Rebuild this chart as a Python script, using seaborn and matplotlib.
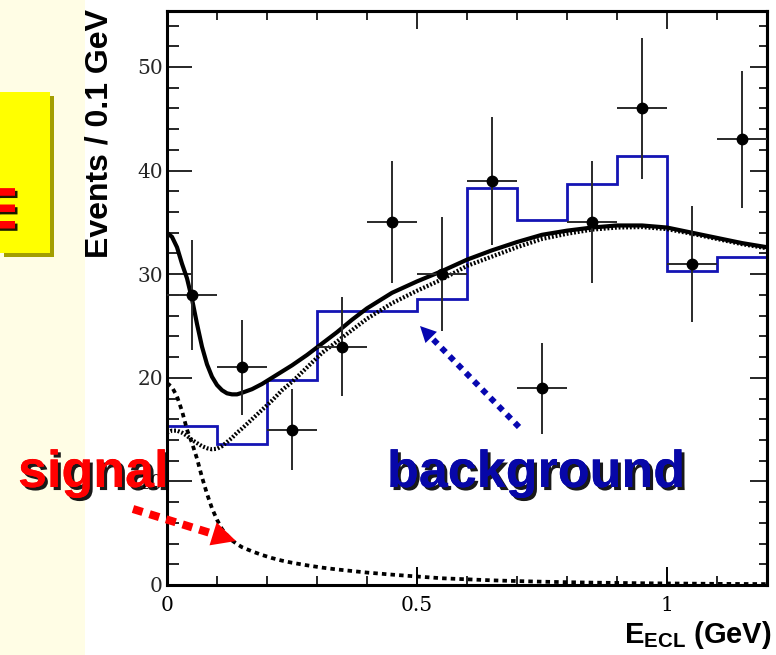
import numpy as np
import pandas as pd
import matplotlib
matplotlib.use("Agg")
import matplotlib.pyplot as plt
import matplotlib.patheffects as pe
from matplotlib.patches import Rectangle, Polygon
from matplotlib.lines import Line2D
from matplotlib.ticker import MultipleLocator, FixedLocator
import seaborn as sns

# ---------------- data ----------------
# measured E_ECL spectrum in 0.1 GeV bins
bin_edges = [0.0, 0.1, 0.2, 0.3, 0.4, 0.5, 0.6, 0.7, 0.8, 0.9, 1.0, 1.1, 1.2]
bin_centers = [0.05, 0.15, 0.25, 0.35, 0.45, 0.55, 0.65, 0.75, 0.85, 0.95, 1.05, 1.15]
events = [28, 21, 15, 23, 35, 30, 39, 19, 35, 46, 31, 43]
events_err = [5.3, 4.6, 3.9, 4.8, 5.9, 5.5, 6.2, 4.4, 5.9, 6.8, 5.6, 6.6]
bin_halfwidth = [0.05] * 12

# expected background histogram
mc_background = [15.3, 13.6, 19.8, 26.4, 26.4, 27.6, 38.3, 35.2, 38.7, 41.4, 30.3, 31.7]

# fit curves
fit_e = [0.00, 0.01, 0.02, 0.03, 0.04, 0.05, 0.06, 0.07, 0.08, 0.09, 0.10, 0.11,
         0.12, 0.13, 0.14, 0.15, 0.17, 0.19, 0.21, 0.23, 0.25, 0.28, 0.31, 0.34,
         0.37, 0.40, 0.45, 0.50, 0.55, 0.60, 0.65, 0.70, 0.75, 0.80, 0.85, 0.90,
         0.95, 1.00, 1.05, 1.10, 1.15, 1.20]
fit_total = [34.0, 33.6, 32.6, 31.0, 29.6, 27.6, 25.2, 23.0, 21.3, 20.1, 19.3, 18.8,
             18.5, 18.4, 18.4, 18.55, 18.9, 19.4, 20.0, 20.6, 21.2, 22.2, 23.3, 24.4,
             25.6, 26.7, 28.2, 29.3, 30.3, 31.4, 32.3, 33.1, 33.8, 34.2, 34.5, 34.7,
             34.7, 34.5, 34.0, 33.5, 33.0, 32.6]
fit_background = [14.7, 14.9, 14.9, 14.7, 14.4, 14.0, 13.7, 13.4, 13.2, 13.1, 13.15, 13.4,
                  13.8, 14.2, 14.7, 15.1, 16.0, 16.9, 17.8, 18.8, 19.6, 21.0, 22.4, 23.5,
                  24.6, 25.7, 27.2, 28.4, 29.5, 30.8, 31.7, 32.6, 33.4, 33.9, 34.3, 34.5,
                  34.55, 34.35, 33.9, 33.4, 32.9, 32.5]
fit_signal = [19.5, 19.1, 18.2, 16.8, 15.0, 13.7, 12.2, 10.4, 8.8, 7.4, 6.3, 5.4,
              4.8, 4.3, 3.95, 3.65, 3.25, 2.9, 2.6, 2.35, 2.15, 1.9, 1.68, 1.5,
              1.35, 1.2, 1.0, 0.82, 0.65, 0.55, 0.45, 0.38, 0.32, 0.27, 0.23, 0.2,
              0.17, 0.15, 0.13, 0.11, 0.1, 0.09]

fits = pd.DataFrame({"E": fit_e, "total": fit_total,
                     "background": fit_background, "signal": fit_signal})

# ---------------- style ----------------
sns.set_style("ticks")
plt.rcParams["font.family"] = ["DejaVu Serif"]
plt.rcParams["mathtext.fontset"] = "custom"
plt.rcParams["mathtext.bf"] = "Liberation Sans:bold"
plt.rcParams["mathtext.rm"] = "Liberation Sans:bold"

W, H = 776, 655
fig = plt.figure(figsize=(W / 100, H / 100), dpi=100)
fig.patch.set_facecolor("white")


def fx(px):
    return px / W


def fy(py):
    return 1 - py / H


def text_shadow(dx, dy):
    return [pe.withSimplePatchShadow(offset=(dx, dy), shadow_rgbFace="black", alpha=0.9),
            pe.Normal()]


# cream side panel and yellow tab
fig.add_artist(Rectangle((0, 0), fx(85), 1, transform=fig.transFigure,
                         facecolor="#FFFDE5", edgecolor="none", zorder=-2))
fig.add_artist(Rectangle((fx(4), fy(257)), fx(50), fy(96) - fy(257),
                         transform=fig.transFigure, facecolor="#A39E00",
                         edgecolor="none", zorder=-1))
fig.add_artist(Rectangle((0, fy(253)), fx(50), fy(92) - fy(253),
                         transform=fig.transFigure, facecolor="#FFFF00",
                         edgecolor="none", zorder=-1))
fig.text(fx(15), fy(232), "m", rotation=90, rotation_mode="anchor",
         ha="left", va="baseline", color="#FF0000", fontsize=38,
         fontweight="bold", family="Liberation Sans", zorder=1,
         path_effects=text_shadow(1.8, -1.8))

# ---------------- axes ----------------
ax = fig.add_axes([fx(167), fy(585), fx(767) - fx(167), (585 - 11) / H])
ax.set_facecolor("white")

ax.stairs(mc_background, bin_edges, color="#1414B4", lw=2.0, baseline=None, zorder=2)

sns.lineplot(data=fits, x="E", y="total", ax=ax, color="black", lw=3.0,
             estimator=None, sort=False, zorder=3)
sns.lineplot(data=fits, x="E", y="background", ax=ax, color="black", lw=3.0,
             linestyle=(0, (0.45, 0.45)), estimator=None, sort=False, zorder=3)
sns.lineplot(data=fits, x="E", y="signal", ax=ax, color="black", lw=2.7,
             linestyle=(0, (1.2, 1.1)), estimator=None, sort=False, zorder=3)

ax.errorbar(bin_centers, events, xerr=bin_halfwidth, yerr=events_err, fmt="o",
            color="black", ms=7.5, ecolor="#2a2a2a", elinewidth=1.4, capsize=0,
            zorder=4)

ax.set_xlim(0, 1.2)
ax.set_ylim(0, 55.4)
ax.set_xlabel("")
ax.set_ylabel("")

ax.xaxis.set_major_locator(FixedLocator([0, 0.5, 1]))
ax.set_xticklabels(["0", "0.5", "1"])
ax.xaxis.set_minor_locator(MultipleLocator(0.1))
ax.yaxis.set_major_locator(MultipleLocator(10))
ax.yaxis.set_minor_locator(MultipleLocator(2))

ax.tick_params(axis="x", which="major", direction="in", length=13, width=1.4,
               pad=8, labelsize=14.5, top=False, bottom=True, colors="black")
ax.tick_params(axis="x", which="minor", direction="in", length=6.5, width=1.4,
               top=False, bottom=True)
ax.tick_params(axis="y", which="major", direction="in", length=18, width=1.4,
               pad=3, labelsize=14.5, left=True, right=False)
ax.tick_params(axis="y", which="minor", direction="in", length=8.6, width=1.4,
               left=True, right=False)
for lab in ax.get_xticklabels() + ax.get_yticklabels():
    lab.set_family("DejaVu Serif")

for side in ["left", "right", "top", "bottom"]:
    ax.spines[side].set_visible(True)
    ax.spines[side].set_linewidth(2.2)
    ax.spines[side].set_color("black")

top = ax.secondary_xaxis("top")
top.xaxis.set_major_locator(FixedLocator([0, 0.5, 1]))
top.xaxis.set_minor_locator(MultipleLocator(0.1))
top.tick_params(which="major", direction="in", length=13, width=1.4, labeltop=False)
top.tick_params(which="minor", direction="in", length=6.5, width=1.4)
top.spines["top"].set_linewidth(2.2)

right = ax.secondary_yaxis("right")
right.yaxis.set_major_locator(MultipleLocator(10))
right.yaxis.set_minor_locator(MultipleLocator(2))
right.tick_params(which="major", direction="in", length=12.5, width=1.4, labelright=False)
right.tick_params(which="minor", direction="in", length=6, width=1.4)
right.spines["right"].set_linewidth(2.2)

# axis titles
fig.text(fx(99), fy(133), "Events / 0.1 GeV", rotation=90, ha="center", va="center",
         fontsize=23, fontweight="bold", family="Liberation Sans", color="black")
fig.text(fx(772), fy(643), r"$\mathbf{E}_{\mathbf{ECL}}$ (GeV)", ha="right",
         va="baseline", fontsize=21, fontweight="bold", family="Liberation Sans",
         color="black")

# ---------------- annotations ----------------
fig.text(fx(18), fy(487), "signal", ha="left", va="baseline", color="#FF0000",
         fontsize=37.5, fontweight="bold", family="Liberation Sans",
         path_effects=text_shadow(2.2, -2.2), zorder=6)
fig.text(fx(387), fy(487), "background", ha="left", va="baseline", color="#0707A8",
         fontsize=37.5, fontweight="bold", family="Liberation Sans",
         path_effects=text_shadow(2.2, -2.2), zorder=6)


def dotted_arrow(tail, tip, color, lw, dashes, head_len, head_w):
    tail = np.array(tail, float)
    tip = np.array(tip, float)
    d = tip - tail
    d /= np.hypot(*d)
    base = tip - d * head_len
    perp = np.array([-d[1], d[0]])
    fig.add_artist(Line2D([fx(tail[0]), fx(base[0])], [fy(tail[1]), fy(base[1])],
                          transform=fig.transFigure, color=color, lw=lw,
                          linestyle=(0, dashes), solid_capstyle="butt", zorder=6))
    c1 = base + perp * head_w / 2
    c2 = base - perp * head_w / 2
    pts = [(fx(p[0]), fy(p[1])) for p in (tip, c1, c2)]
    fig.add_artist(Polygon(pts, closed=True, transform=fig.transFigure,
                           facecolor=color, edgecolor="none", zorder=6))


dotted_arrow((133, 509), (236, 541), "#FF0000", 5.8, (1.25, 0.9), 24, 24)
dotted_arrow((519, 427), (420, 326), "#0707B0", 4.3, (1.0, 0.95), 16, 16)

fig.savefig("out.png", dpi=100)
